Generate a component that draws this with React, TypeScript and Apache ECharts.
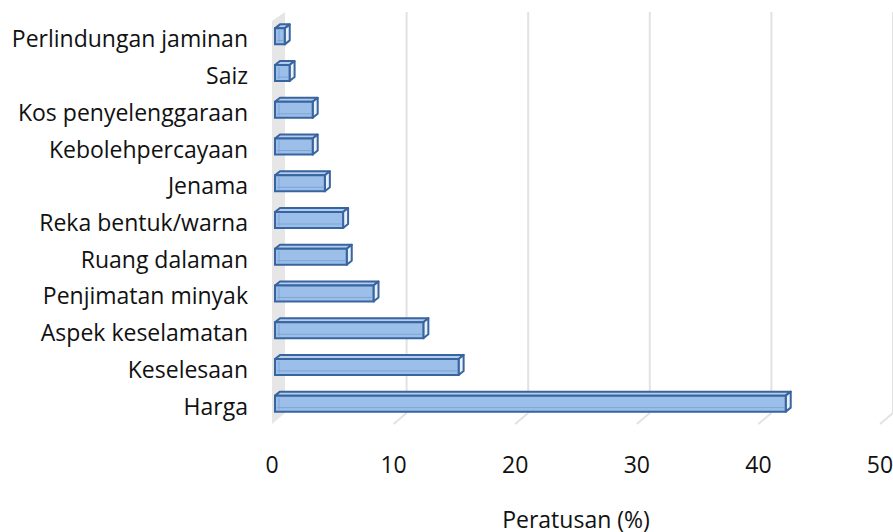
import React, { useEffect, useRef } from "react";
import * as echarts from "echarts";

const categories = [
  "Perlindungan jaminan",
  "Saiz",
  "Kos penyelenggaraan",
  "Kebolehpercayaan",
  "Jenama",
  "Reka bentuk/warna",
  "Ruang dalaman",
  "Penjimatan minyak",
  "Aspek keselamatan",
  "Keselesaan",
  "Harga",
];
const values = [0.8, 1.2, 3.1, 3.1, 4.1, 5.6, 5.9, 8.1, 12.2, 15.1, 42.0];
const xTicks = [0, 10, 20, 30, 40, 50];
const axisTitle = "Peratusan (%)";

const FONT = "'Open Sans', 'Noto Sans', sans-serif";
const TEXT = "#111111";

export default function App() {
  const ref = useRef<HTMLDivElement>(null);
  useEffect(() => {
    document.body.style.margin = "0";
    const chart = echarts.init(ref.current!, null, { renderer: "svg" });
    const DX = 13;
    const DY = -11;
    const BX = 5;
    const BY = -4;
    const BH = 16;

    const renderWalls = (params: any, api: any) => {
      const cs = params.coordSys;
      const t = api.value(0);
      const x0 = api.coord([t, 0])[0];
      const top = cs.y;
      const bottom = cs.y + cs.height;
      const children: any[] = [];
      if (t === 0) {
        children.push({
          type: "polygon",
          shape: {
            points: [
              [x0, bottom],
              [x0 + DX, bottom + DY],
              [x0 + DX, top - 8],
              [x0, top + 1],
            ],
          },
          style: { fill: "#e6e6e6", stroke: null },
        });
      } else {
        children.push({
          type: "line",
          shape: { x1: x0 + DX, y1: top - 8, x2: x0 + DX, y2: bottom + DY },
          style: { stroke: "#e2e2e2", lineWidth: 2 },
        });
        children.push({
          type: "line",
          shape: { x1: x0 + DX, y1: bottom + DY, x2: x0, y2: bottom },
          style: { stroke: "#e2e2e2", lineWidth: 2 },
        });
      }
      return { type: "group", children };
    };

    const renderBars = (params: any, api: any) => {
      const v = api.value(0);
      const i = api.value(1);
      const end = api.coord([v, i]);
      const start = api.coord([0, i]);
      const left = start[0] + 3;
      const right = end[0] + 3;
      const top = end[1] - BH / 2 - 2;
      const bot = top + BH;
      const stroke = "#38649f";
      const lw = 2;
      return {
        type: "group",
        children: [
          {
            type: "polygon",
            shape: {
              points: [
                [left, top],
                [right, top],
                [right + BX, top + BY],
                [left + BX, top + BY],
              ],
            },
            style: { fill: "#b3cdec", stroke, lineWidth: lw, lineJoin: "round" },
          },
          {
            type: "polygon",
            shape: {
              points: [
                [right, top],
                [right + BX, top + BY],
                [right + BX, bot + BY],
                [right, bot],
              ],
            },
            style: { fill: "#e9f0f9", stroke, lineWidth: lw, lineJoin: "round" },
          },
          {
            type: "rect",
            shape: { x: left, y: top, width: Math.max(right - left, 1), height: BH },
            style: { fill: "#9bbfe8", stroke, lineWidth: lw },
          },
          {
            type: "line",
            shape: { x1: left + 2, y1: bot - 4, x2: right - 1, y2: bot - 4 },
            style: { stroke: "#7fa5d6", lineWidth: 1 },
          },
          {
            type: "line",
            shape: { x1: left + 4, y1: top + 2, x2: left + 4, y2: bot - 2 },
            style: { stroke: "#7fa5d6", lineWidth: 1 },
          },
        ],
      };
    };

    chart.setOption({
      animation: false,
      grid: {
        left: 272,
        right: 13,
        top: 20,
        bottom: 108,
        containLabel: false,
        outerBoundsMode: "none",
      },
      xAxis: {
        type: "value",
        min: 0,
        max: 50,
        interval: 10,
        axisLine: { show: false },
        axisTick: { show: false },
        splitLine: { show: false },
        axisLabel: { margin: 28, fontSize: 23, color: TEXT, fontFamily: FONT },
        name: axisTitle,
        nameLocation: "middle",
        nameGap: 83,
        nameTextStyle: { fontSize: 23, lineHeight: 23, color: TEXT, fontFamily: FONT },
      },
      yAxis: {
        type: "category",
        data: categories,
        inverse: true,
        axisLine: { show: false },
        axisTick: { show: false },
        splitLine: { show: false },
        axisLabel: {
          margin: 24,
          fontSize: 23,
          color: TEXT,
          fontFamily: FONT,
        },
      },
      series: [
        {
          type: "custom",
          data: xTicks.map((t) => [t, 0]),
          renderItem: renderWalls,
          silent: true,
          z: 1,
        },
        {
          type: "custom",
          data: values.map((v, i) => [v, i]),
          renderItem: renderBars,
          z: 2,
        },
      ],
    });
    return () => chart.dispose();
  }, []);
  return <div ref={ref} style={{ width: 893, height: 532 }} />;
}
